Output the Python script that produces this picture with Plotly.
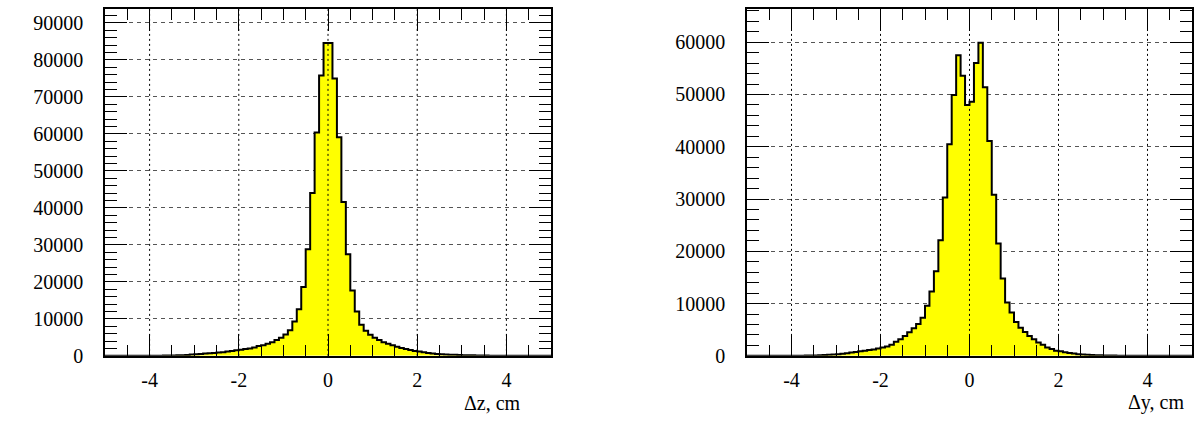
import plotly.graph_objects as go

# ---- data -----------------------------------------------------------
# 100 bins of width 0.1 from -5 to 5 (lower edges -5.0 ... 4.9)
bin_start = -5.0
bin_width = 0.1
n_bins = 100

dz_counts = [
    4, 5, 6, 8, 10, 13, 16, 20, 25, 30,
    35, 45, 55, 70, 90, 120, 160, 200, 260, 350,
    440, 530, 620, 700, 800, 880, 970, 1150, 1320, 1500,
    1670, 1850, 2020, 2290, 2640, 2900, 3250, 3700, 4300, 4900,
    5800, 6900, 9300, 12600, 18650, 28800, 44000, 60400, 75800, 84600,
    84600, 75000, 59100, 41600, 27500, 17700, 12000, 8400, 6800, 5700,
    4900, 4300, 3700, 3250, 2900, 2450, 2100, 1850, 1580, 1320,
    1150, 970, 800, 620, 530, 440, 380, 330, 280, 240,
    200, 170, 140, 110, 90, 70, 55, 40, 35, 30,
    25, 20, 16, 13, 10, 8, 6, 5, 4, 3,
]

dy_counts = [
    5, 5, 6, 7, 8, 10, 12, 14, 16, 18,
    20, 30, 40, 55, 70, 90, 120, 160, 200, 260,
    320, 390, 500, 630, 750, 880, 1000, 1120, 1240, 1430,
    1610, 1800, 2120, 2680, 3180, 3800, 4500, 5300, 6100, 7300,
    9600, 12300, 16200, 22100, 30300, 40500, 49900, 57500, 53600, 48000,
    48600, 56000, 59900, 51400, 41100, 30800, 21500, 14800, 10200, 8300,
    6500, 5400, 4570, 3800, 3180, 2550, 2120, 1610, 1310, 1000,
    880, 690, 570, 450, 320, 260, 220, 170, 140, 110,
    90, 70, 55, 45, 35, 30, 25, 20, 18, 16,
    14, 12, 10, 8, 7, 6, 5, 4, 4, 3,
]

x_tickvals = [-4, -2, 0, 2, 4]
x_ticktext = ["-4", "-2", "0", "2", "4"]
dz_yticks = [0, 10000, 20000, 30000, 40000, 50000, 60000, 70000, 80000, 90000]
dy_yticks = [0, 10000, 20000, 30000, 40000, 50000, 60000]
x_title_left = "\u0394z, cm"
x_title_right = "\u0394y, cm"

# ---- build ----------------------------------------------------------
edges = [round(bin_start + bin_width * i, 2) for i in range(n_bins + 1)]

W, H = 1199, 440
FONT = "'Liberation Serif', 'Times New Roman', Times, serif"
FSIZE = 20

fig = go.Figure()


def hist_trace(counts, xa, ya):
    return go.Scatter(
        x=edges,
        y=list(counts) + [counts[-1]],
        mode="lines",
        line=dict(color="black", width=2, shape="hv"),
        fill="tozeroy",
        fillcolor="#FFFF00",
        xaxis=xa,
        yaxis=ya,
        hoverinfo="skip",
        showlegend=False,
    )


fig.add_trace(hist_trace(dz_counts, "x", "y"))
fig.add_trace(hist_trace(dy_counts, "x2", "y2"))

ydom = [(H - 365) / H, (H - 9.5) / H]

xcommon = dict(
    range=[-5, 5],
    tickvals=x_tickvals,
    ticktext=x_ticktext,
    ticks="inside",
    ticklen=22,
    tickwidth=1,
    tickcolor="black",
    showline=True,
    linecolor="black",
    linewidth=1.5,
    mirror="allticks",
    showgrid=False,
    zeroline=False,
    tickfont=dict(family=FONT, size=FSIZE, color="black"),
    ticklabelstandoff=5,
    minor=dict(dtick=0.5, tick0=0, ticks="inside", ticklen=11,
               tickcolor="black", tickwidth=1, showgrid=False),
    layer="above traces",
)


def ycommon(ticks, top):
    return dict(
        range=[0, top],
        tickvals=ticks,
        ticktext=[str(v) for v in ticks],
        ticks="inside",
        ticklen=22,
        tickwidth=1,
        tickcolor="black",
        showline=True,
        linecolor="black",
        linewidth=1.5,
        mirror="allticks",
        showgrid=True,
        gridcolor="#555555",
        griddash="4px,4px",
        gridwidth=1,
        zeroline=False,
        tickfont=dict(family=FONT, size=FSIZE, color="black"),
        ticklabelstandoff=16,
        minor=dict(dtick=2000, tick0=0, ticks="inside", ticklen=12,
                   tickcolor="black", tickwidth=1, showgrid=False),
        layer="above traces",
        domain=ydom,
    )


fig.update_layout(
    width=W,
    height=H,
    margin=dict(l=0, r=0, t=0, b=0),
    paper_bgcolor="white",
    plot_bgcolor="white",
    font=dict(family=FONT, size=FSIZE, color="black"),
    xaxis=dict(domain=[105 / W, 551 / W], anchor="y", **xcommon),
    yaxis=dict(anchor="x", **ycommon(dz_yticks, 93700)),
    xaxis2=dict(domain=[747 / W, 1192 / W], anchor="y2", **xcommon),
    yaxis2=dict(anchor="x2", **ycommon(dy_yticks, 66300)),
)

# vertical dotted grid lines at the major x ticks, drawn over the fill
shapes = []
for xr, yr in (("x", "y domain"), ("x2", "y2 domain")):
    for v in x_tickvals:
        shapes.append(dict(type="line", xref=xr, yref=yr, x0=v, x1=v, y0=0, y1=1,
                           line=dict(color="black", width=1, dash="2px,3px"),
                           layer="above"))
fig.update_layout(shapes=shapes)

fig.add_annotation(text=x_title_left, xref="paper", yref="paper",
                   x=523 / W, y=(H - 413) / H, xanchor="right", yanchor="middle",
                   showarrow=False, font=dict(family=FONT, size=FSIZE, color="black"))
fig.add_annotation(text=x_title_right, xref="paper", yref="paper",
                   x=1186 / W, y=(H - 413) / H, xanchor="right", yanchor="middle",
                   showarrow=False, font=dict(family=FONT, size=FSIZE, color="black"))

fig.write_html("out.html")
